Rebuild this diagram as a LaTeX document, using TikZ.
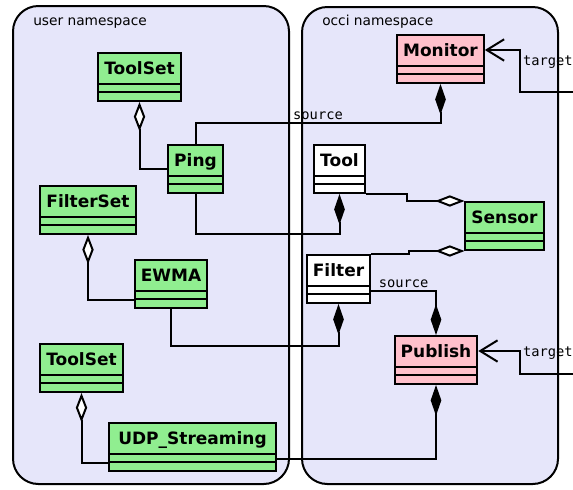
\documentclass[tikz,border=0pt]{standalone}
\usepackage{fontspec}
\usepackage{xcolor}
\usetikzlibrary{arrows.meta, positioning}
\setmainfont{DejaVu Sans}
\newfontfamily\rolefont{DejaVu Sans Mono}

\definecolor{nsbg}{HTML}{E6E6FA}
\definecolor{clsgreen}{HTML}{90EE90}
\definecolor{clspink}{HTML}{FFC0CB}

\begin{document}
\begin{tikzpicture}[x=0.75pt, y=-0.75pt,
        ns/.style={draw, line width=1.5pt, fill=nsbg, rounded corners=19pt},
        nslabel/.style={anchor=base west, inner sep=0pt, font=\fontsize{10.3}{12}\selectfont},
        umlclass/.style={draw, line width=1.5pt, anchor=north, inner xsep=4.5pt, inner ysep=0pt,
            text height=16pt, text depth=20pt, font=\fontsize{12.75}{15}\selectfont\bfseries,
            path picture={
                \draw[line width=1.5pt] ([yshift=6.5pt]path picture bounding box.south west) -- ([yshift=6.5pt]path picture bounding box.south east);
                \draw[line width=1.5pt] ([yshift=13pt]path picture bounding box.south west) -- ([yshift=13pt]path picture bounding box.south east);
            }},
        link/.style={line width=1.5pt},
        aggr/.style={link, {Diamond[fill=white, length=22pt, width=8.5pt]}-},
        comp/.style={link, {Diamond[length=23pt, width=8pt]}-},
        assoc/.style={link, -{Straight Barb[length=13pt, width=16pt]}},
        role/.style={inner sep=1.5pt, font=\fontsize{10.3}{12}\selectfont\rolefont}]
        \useasboundingbox (0,0) rectangle (573,489);

        \draw[ns] (13,6) rectangle (289,484);
        \draw[ns] (302,7) rectangle (558,484);
        \node[nslabel] (usrlbl) at (33,25) {user namespace};
        \node[nslabel] (occilbl) at (322,25) {occi namespace};

        % user namespace
        \node[umlclass, fill=clsgreen] (toolset) at (139.5,52) {ToolSet};
        \node[umlclass, fill=clsgreen] (ping) at (195.5,144) {Ping};
        \node[umlclass, fill=clsgreen] (filterset) at (88,185) {FilterSet};
        \node[umlclass, fill=clsgreen] (ewma) at (171,259) {EWMA};
        \node[umlclass, fill=clsgreen] (toolset2) at (81.5,343) {ToolSet};
        \node[umlclass, fill=clsgreen, minimum width=125pt] (udp) at (192.5,422) {UDP\_Streaming};

        % occi namespace
        \node[umlclass, fill=clspink] (monitor) at (440.5,34) {Monitor};
        \node[umlclass, fill=white] (tool) at (339.5,144) {Tool};
        \node[umlclass, fill=clsgreen] (sensor) at (504.5,201) {Sensor};
        \node[umlclass, fill=white] (filter) at (338.5,254) {Filter};
        \node[umlclass, fill=clspink] (publish) at (436,335) {Publish};

        \draw[aggr] (toolset.south) |- (ping.west);
        \draw[aggr] (filterset.south) |- ([yshift=7pt]ewma.south west);
        \draw[aggr] (toolset2.south) |- ([yshift=7pt]udp.south west);

        \draw[comp] (monitor.south) -- ++(0,39) -| node[pos=.25, above, role] {source} (ping.north);
        \draw[comp] (tool.south) -- ++(0,40) -| (ping.south);
        \draw[comp] (filter.south) -- ++(0,42) -| (ewma.south);
        \draw[comp] (publish.south) |- ([yshift=10pt]udp.south east);
        \draw[comp] (publish.north) |- node[pos=.75, above, role] {source} ([yshift=10pt]filter.south east);

        \draw[aggr] (sensor.north west) -- ++(-57,0) |- (tool.south east);
        \draw[aggr] (sensor.south west) -- ++(-55,0) |- (filter.north east);

        \coordinate (montgt) at (573,92);
        \coordinate (pubtgt) at (573,374);
        \draw[assoc] (montgt) -- ++(-53,0) |- node[pos=.36, right, role] {target} ([yshift=-12pt]monitor.north east);
        \draw[assoc] (pubtgt) -- ++(-53,0) |- node[pos=.46, right, role] {target} ([yshift=-12pt]publish.north east);

\end{tikzpicture}
\end{document}
